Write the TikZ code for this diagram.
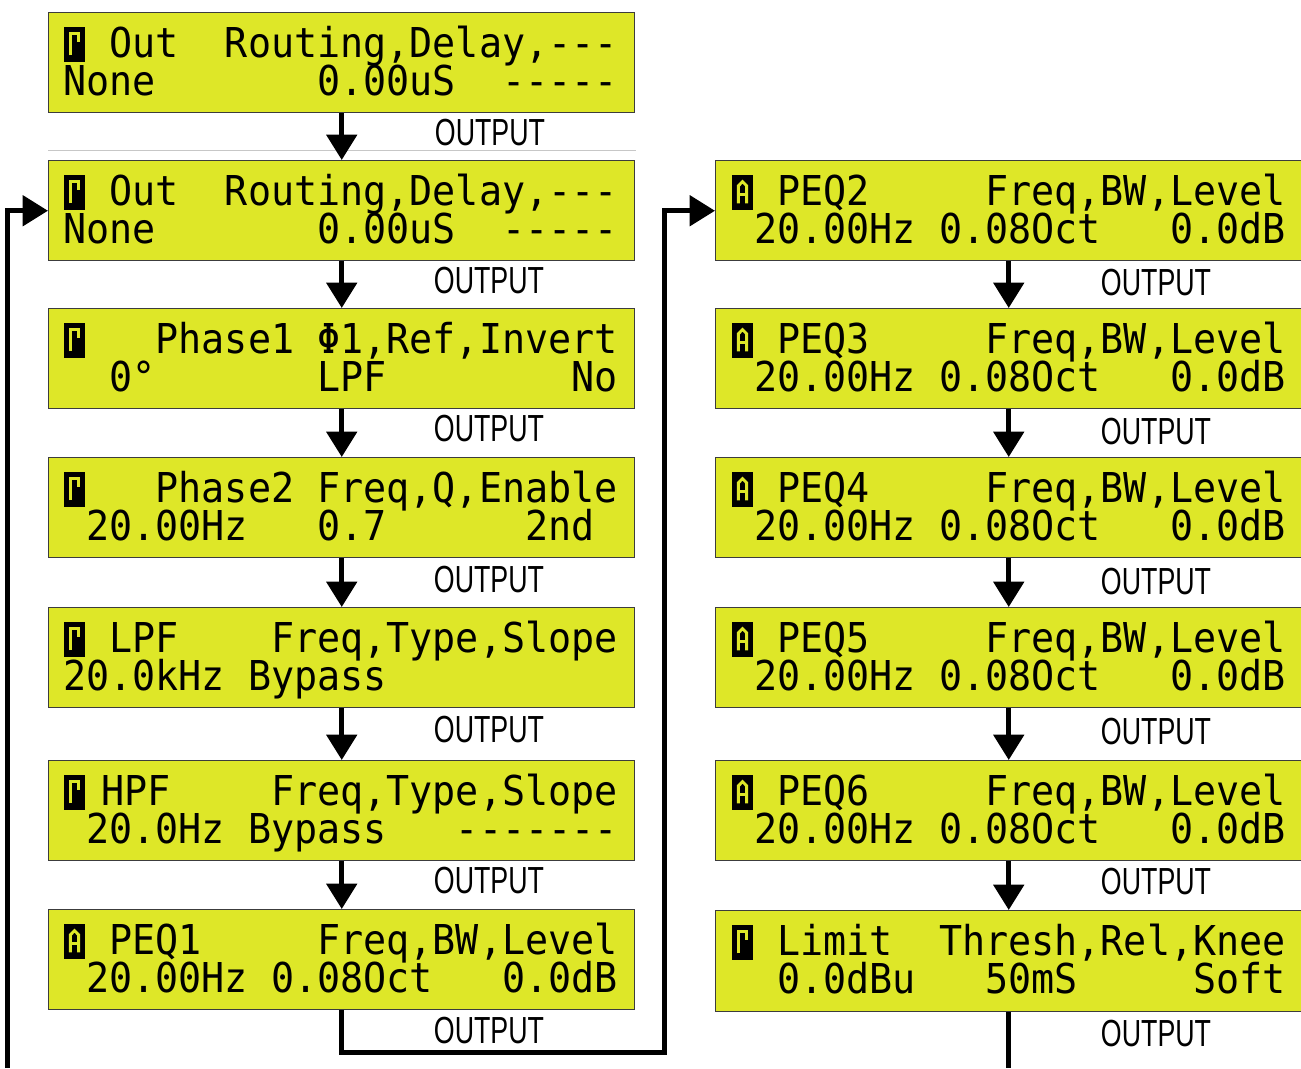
\documentclass[tikz,border=0pt]{standalone}
\usepackage{fontspec}
\setmonofont[FakeStretch=0.9325]{DejaVu Sans Mono}
\newfontfamily\outfont{Liberation Sans}
\usetikzlibrary{arrows.meta}
\definecolor{lcdyellow}{RGB}{222,231,40}
\definecolor{lcdborder}{RGB}{60,60,60}
\newcommand\outtxt{\scalebox{0.71}[1]{OUTPUT}}
% \lcdln{name}{x0}{col}{y}{text}
\newcommand\lcdln[5]{\node[lcdtxt] (#1) at ({#2+23.1*#3},#4) {#5};}
\begin{document}
\begin{tikzpicture}[x=0.75pt,y=-0.75pt,
  lcd/.style={draw=lcdborder, line width=1.1pt, fill=lcdyellow,
    minimum width=439.5pt, minimum height=75pt, inner sep=0pt, anchor=north west},
  lcdtxt/.style={anchor=base west, inner sep=0pt, font=\ttfamily\fontsize{30.86}{32}\selectfont},
  outlbl/.style={anchor=base, inner sep=0pt, font=\outfont\fontsize{28.3}{30}\selectfont},
  flow/.style={line width=3.75pt, -{Triangle[length=19pt,width=22.5pt]}},
  plainline/.style={line width=3.75pt},
  iconq/.pic={\fill[black] (0,0) rectangle (21,35);
    \draw[lcdyellow, line width=2.2pt] (6.3,28.4)--(6.3,6.6)--(14.7,6.6)--(14.7,15.3);},
  icona/.pic={\fill[black] (0,0) rectangle (21,35);
    \draw[lcdyellow, line width=2.2pt] (6.3,28.4)--(6.3,10.9)--(10.5,6.6)--(14.7,10.9)--(14.7,28.4);
    \draw[lcdyellow, line width=2.2pt] (6.3,19.7)--(14.7,19.7);}
]
\useasboundingbox (0,0) rectangle (1301,1068);
\draw[black!22, line width=0.75pt] (48,150) -- (636,150);

% ---------- left column ----------
\node[lcd] (b1) at (48,12) {};
\pic at (64,27) {iconq};
\lcdln{b1a}{63}{2}{57}{Out~~Routing,Delay,---}
\lcdln{b1b}{63}{0}{95}{None~~~~~~~0.00uS~~-----}

\node[lcd] (b2) at (48,160) {};
\pic at (64,175) {iconq};
\lcdln{b2a}{63}{2}{205}{Out~~Routing,Delay,---}
\lcdln{b2b}{63}{0}{243}{None~~~~~~~0.00uS~~-----}

\node[lcd] (b3) at (48,308) {};
\pic at (64,323) {iconq};
\lcdln{b3a}{63}{4}{353}{Phase1~Φ1,Ref,Invert}
\lcdln{b3b}{63}{2}{391}{0°~~~~~~~LPF~~~~~~~~No}

\node[lcd] (b4) at (48,457) {};
\pic at (64,472) {iconq};
\lcdln{b4a}{63}{4}{502}{Phase2~Freq,Q,Enable}
\lcdln{b4b}{63}{1}{540}{20.00Hz~~~0.7~~~~~~2nd}

\node[lcd] (b5) at (48,607) {};
\pic at (64,622) {iconq};
\lcdln{b5a}{63}{2}{652}{LPF~~~~Freq,Type,Slope}
\lcdln{b5b}{63}{0}{690}{20.0kHz~Bypass}

\node[lcd] (b6) at (48,760) {};
\pic at (64,775) {iconq};
\lcdln{b6a}{63}{1.65}{805}{HPF}
\lcdln{b6c}{63}{9}{805}{Freq,Type,Slope}
\lcdln{b6b}{63}{1}{843}{20.0Hz~Bypass~~~-------}

\node[lcd] (b7) at (48,909) {};
\pic at (64,924) {icona};
\lcdln{b7a}{63}{2}{954}{PEQ1~~~~~Freq,BW,Level}
\lcdln{b7b}{63}{1}{992}{20.00Hz~0.08Oct~~~0.0dB}

% ---------- right column ----------
\node[lcd] (r1) at (715,160) {};
\pic at (732,175) {icona};
\lcdln{r1a}{731}{2}{205}{PEQ2~~~~~Freq,BW,Level}
\lcdln{r1b}{731}{1}{243}{20.00Hz~0.08Oct~~~0.0dB}

\node[lcd] (r2) at (715,308) {};
\pic at (732,323) {icona};
\lcdln{r2a}{731}{2}{353}{PEQ3~~~~~Freq,BW,Level}
\lcdln{r2b}{731}{1}{391}{20.00Hz~0.08Oct~~~0.0dB}

\node[lcd] (r3) at (715,457) {};
\pic at (732,472) {icona};
\lcdln{r3a}{731}{2}{502}{PEQ4~~~~~Freq,BW,Level}
\lcdln{r3b}{731}{1}{540}{20.00Hz~0.08Oct~~~0.0dB}

\node[lcd] (r4) at (715,607) {};
\pic at (732,622) {icona};
\lcdln{r4a}{731}{2}{652}{PEQ5~~~~~Freq,BW,Level}
\lcdln{r4b}{731}{1}{690}{20.00Hz~0.08Oct~~~0.0dB}

\node[lcd] (r5) at (715,760) {};
\pic at (732,775) {icona};
\lcdln{r5a}{731}{2}{805}{PEQ6~~~~~Freq,BW,Level}
\lcdln{r5b}{731}{1}{843}{20.00Hz~0.08Oct~~~0.0dB}

\node[lcd, minimum height=75.75pt] (r6) at (715,910) {};
\pic at (732,925) {iconq};
\lcdln{r6a}{731}{2}{955}{Limit~~Thresh,Rel,Knee}
\lcdln{r6b}{731}{2}{993}{0.0dBu~~~50mS~~~~~Soft}

% ---------- connectors ----------
\draw[flow] (b1.south) -- (b2.north);
\draw[flow] (b2.south) -- (b3.north);
\draw[flow] (b3.south) -- (b4.north);
\draw[flow] (b4.south) -- (b5.north);
\draw[flow] (b5.south) -- (b6.north);
\draw[flow] (b6.south) -- (b7.north);
\draw[flow] (r1.south) -- (r2.north);
\draw[flow] (r2.south) -- (r3.north);
\draw[flow] (r3.south) -- (r4.north);
\draw[flow] (r4.south) -- (r5.north);
\draw[flow] (r5.south) -- (r6.north);

\coordinate (bot) at (0,1068);
\coordinate (fb) at (7,1068);
\draw[flow] (fb) |- (b2.west);
\coordinate (jog) at (664,1052);
\draw[flow] (b7.south) |- (jog) |- (r1.west);
\coordinate (lend) at (r6.south |- bot);
\draw[plainline] (r6.south) -- (lend);

% ---------- OUTPUT labels ----------
\node[outlbl] (o1) at (490,145) {\outtxt};
\node[outlbl] (o2) at (489,293) {\outtxt};
\node[outlbl] (o3) at (489,441) {\outtxt};
\node[outlbl] (o4) at (489,592) {\outtxt};
\node[outlbl] (o5) at (489,742) {\outtxt};
\node[outlbl] (o6) at (489,893) {\outtxt};
\node[outlbl] (o7) at (489,1043) {\outtxt};
\node[outlbl] (p1) at (1156,295) {\outtxt};
\node[outlbl] (p2) at (1156,444) {\outtxt};
\node[outlbl] (p3) at (1156,594) {\outtxt};
\node[outlbl] (p4) at (1156,744) {\outtxt};
\node[outlbl] (p5) at (1156,894) {\outtxt};
\node[outlbl] (p6) at (1156,1046) {\outtxt};
\end{tikzpicture}
\end{document}
